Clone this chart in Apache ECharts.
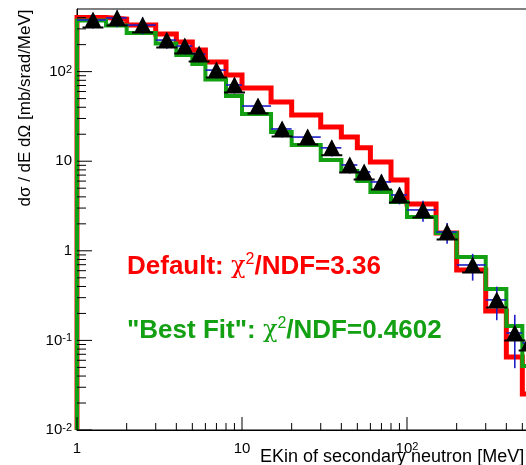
<!DOCTYPE html>
<html><head><meta charset="utf-8">
<script src="https://cdn.jsdelivr.net/npm/echarts@6/dist/echarts.min.js"></script>
<style>html,body{margin:0;padding:0;background:#fff;overflow:hidden}#c{width:526px;height:465px}</style>
</head><body><div id="c"></div>
<script>
// ---- data ----
const binEdges = [1, 1.5, 2, 3, 4, 5, 6, 8, 10, 15, 20, 30, 40, 50, 60, 80, 100, 150, 200, 300, 400, 500, 600];
const defaultValues = [402, 386, 331, 263, 214, 174, 128, 91.6, 65.6, 45.8, 32.8, 24.1, 18.6, 14.1, 9.8, 6.18, 3.33, 1.58, 0.611, 0.213, 0.0653, 0.0252];
const bestFitValues = [372, 327, 270, 206, 153, 122, 81.7, 53.5, 33.7, 21.2, 15.2, 10.3, 7.78, 6.01, 4.54, 3.51, 2.39, 1.58, 0.853, 0.375, 0.145, 0.0519];
const dataEnergy = [1.25, 1.75, 2.5, 3.5, 4.5, 5.5, 7, 9, 12.5, 17.5, 25, 35, 45, 55, 70, 90, 125, 175, 250, 350, 450, 550];
const dataValues = [377, 397, 331, 225, 193, 157, 104, 71, 41.3, 22.9, 18.6, 14.1, 9.08, 7.59, 5.87, 4.20, 2.86, 1.62, 0.695, 0.283, 0.121, 0.0935];
const dataErrors = [75, 85, 70, 45, 38, 30, 20, 14, 8, 4.5, 3.7, 2.8, 1.8, 1.5, 1.2, 0.9, 0.75, 0.42, 0.23, 0.115, 0.072, 0.05];
const xMajorTicks = [1, 10, 100, 1000];
const xTickLabels = ['1', '10', '10{s|2}', '10{s|3}'];
const xMinorTicks = [2, 3, 4, 5, 6, 7, 8, 9, 20, 30, 40, 50, 60, 70, 80, 90, 200, 300, 400, 500, 600, 700, 800, 900];
const yMajorTicks = [0.01, 0.1, 1, 10, 100];
const yTickLabels = ['10{s|-2}', '10{s|-1}', '1', '10', '10{s|2}'];
const yMinorTicks = [0.02, 0.03, 0.04, 0.05, 0.06, 0.07, 0.08, 0.09, 0.2, 0.3, 0.4, 0.5, 0.6, 0.7, 0.8, 0.9,
  2, 3, 4, 5, 6, 7, 8, 9, 20, 30, 40, 50, 60, 70, 80, 90, 200, 300, 400];
const xRange = [1, 1000];
const yRange = [0.01, 500];
const xTitle = 'EKin of secondary neutron [MeV]';
const yTitle = 'dσ / dE dΩ [mb/srad/MeV]';

// ---- build series data ----
function histPoints(vals) {
  const pts = [[binEdges[0], yRange[0]]];
  for (let i = 0; i < vals.length; i++) pts.push([binEdges[i], vals[i]]);
  pts.push([binEdges[vals.length], vals[vals.length - 1]]);
  return pts;
}
const errData = dataEnergy.map((e, i) => [binEdges[i], binEdges[i + 1], e, dataValues[i], dataValues[i] - dataErrors[i], dataValues[i] + dataErrors[i]]);
const pointData = dataEnergy.map((e, i) => [e, dataValues[i]]);

function labelFor(v, ticks, labels) {
  for (let i = 0; i < ticks.length; i++) {
    if (Math.abs(Math.log10(v) - Math.log10(ticks[i])) < 1e-6) return labels[i];
  }
  return '';
}

const chart = echarts.init(document.getElementById('c'), null, { renderer: 'canvas' });
const FONT = 'Liberation Sans, Arial, Helvetica, sans-serif';
const tickStyle = { stroke: '#000', lineWidth: 1 };

function xTickRender(len) {
  return function (params, api) {
    const p = api.coord([api.value(0), api.value(1)]);
    return { type: 'line', shape: { x1: p[0], y1: p[1], x2: p[0], y2: p[1] - len }, style: tickStyle };
  };
}
function yTickRender(len) {
  return function (params, api) {
    const p = api.coord([api.value(0), api.value(1)]);
    return { type: 'line', shape: { x1: p[0], y1: p[1], x2: p[0] + len, y2: p[1] }, style: tickStyle };
  };
}

const option = {
  animation: false,
  backgroundColor: '#fff',
  grid: { left: 77, width: 495, top: 9, height: 421, show: true, borderColor: '#000', borderWidth: 1,
    containLabel: false, outerBoundsMode: 'none' },
  xAxis: {
    type: 'log', logBase: 10, min: xRange[0], max: xRange[1],
    axisLine: { show: true, lineStyle: { color: '#000', width: 1 } },
    axisTick: { show: false }, splitLine: { show: false }, minorTick: { show: false },
    axisLabel: {
      margin: 11, color: '#000', fontFamily: FONT, fontSize: 15,
      formatter: v => labelFor(v, xMajorTicks, xTickLabels),
      rich: { s: { fontSize: 11, verticalAlign: 'top', lineHeight: 10, fontFamily: FONT, color: '#000' } }
    }
  },
  yAxis: {
    type: 'log', logBase: 10, min: yRange[0], max: yRange[1],
    axisLine: { show: true, lineStyle: { color: '#000', width: 1 } },
    axisTick: { show: false }, splitLine: { show: false }, minorTick: { show: false },
    axisLabel: {
      margin: 5, color: '#000', fontFamily: FONT, fontSize: 15,
      formatter: v => labelFor(v, yMajorTicks, yTickLabels),
      rich: { s: { fontSize: 11, verticalAlign: 'top', lineHeight: 10, fontFamily: FONT, color: '#000' } }
    }
  },
  series: [
    { type: 'line', name: 'Default', data: histPoints(defaultValues), step: 'end', showSymbol: false, symbol: 'none',
      lineStyle: { color: '#ff0000', width: 5, join: 'miter', cap: 'butt' }, z: 2 },
    { type: 'line', name: 'Best Fit', data: histPoints(bestFitValues), step: 'end', showSymbol: false, symbol: 'none',
      lineStyle: { color: '#13a013', width: 4, join: 'miter', cap: 'butt' }, z: 3 },
    { type: 'custom', name: 'errors', data: errData, encode: { x: [0, 1, 2], y: [3, 4, 5] }, z: 4, clip: false,
      renderItem: function (params, api) {
        const a = api.coord([api.value(0), api.value(3)]);
        const b = api.coord([api.value(1), api.value(3)]);
        const c = api.coord([api.value(2), api.value(4)]);
        const d = api.coord([api.value(2), api.value(5)]);
        const st = { stroke: '#1c1cc8', lineWidth: 1.6 };
        return { type: 'group', children: [
          { type: 'line', shape: { x1: a[0], y1: a[1], x2: b[0], y2: b[1] }, style: st },
          { type: 'line', shape: { x1: c[0], y1: c[1], x2: d[0], y2: d[1] }, style: st }
        ] };
      } },
    { type: 'scatter', name: 'Data', data: pointData, z: 5,
      symbol: 'path://M10,0 L17.5,15 L2.5,15 Z M0,15 L20,15 L20,17 L0,17 Z', symbolSize: [21, 17],
      itemStyle: { color: '#000', opacity: 1 } },
    { type: 'custom', data: xMajorTicks.map(v => [v, yRange[0]]), encode: { x: 0, y: 1 }, renderItem: xTickRender(13), z: 6, clip: false, silent: true },
    { type: 'custom', data: xMinorTicks.map(v => [v, yRange[0]]), encode: { x: 0, y: 1 }, renderItem: xTickRender(7), z: 6, clip: false, silent: true },
    { type: 'custom', data: yMajorTicks.map(v => [xRange[0], v]), encode: { x: 0, y: 1 }, renderItem: yTickRender(15), z: 6, clip: false, silent: true },
    { type: 'custom', data: yMinorTicks.map(v => [xRange[0], v]), encode: { x: 0, y: 1 }, renderItem: yTickRender(9), z: 6, clip: false, silent: true }
  ],
  graphic: [
    { type: 'text', x: 260, y: 457, style: { text: xTitle, font: '18px ' + FONT, fill: '#000', verticalAlign: 'middle', align: 'left' } },
    { type: 'text', x: 25, y: 108, rotation: Math.PI / 2,
      style: { text: yTitle, font: '17px ' + FONT, fill: '#000', verticalAlign: 'middle', align: 'center' } },
    { type: 'text', x: 127, y: 267, style: {
      text: '{b|Default: }{g|χ}{s|2}{b|/NDF=3.36}', verticalAlign: 'middle', align: 'left',
      rich: {
        b: { fontFamily: FONT, fontWeight: 'bold', fontSize: 26, fill: '#ff0000', lineHeight: 30 },
        g: { fontFamily: 'DejaVu Serif, serif', fontSize: 24, fill: '#ff0000', lineHeight: 30 },
        s: { fontFamily: FONT, fontSize: 16, fill: '#ff0000', verticalAlign: 'top', lineHeight: 17 }
      } } },
    { type: 'text', x: 127, y: 331, style: {
      text: '{b|"Best Fit": }{g|χ}{s|2}{b|/NDF=0.4602}', verticalAlign: 'middle', align: 'left',
      rich: {
        b: { fontFamily: FONT, fontWeight: 'bold', fontSize: 26, fill: '#13a013', lineHeight: 30 },
        g: { fontFamily: 'DejaVu Serif, serif', fontSize: 24, fill: '#13a013', lineHeight: 30 },
        s: { fontFamily: FONT, fontSize: 16, fill: '#13a013', verticalAlign: 'top', lineHeight: 17 }
      } } }
  ]
};
chart.setOption(option);
</script>
</body></html>
